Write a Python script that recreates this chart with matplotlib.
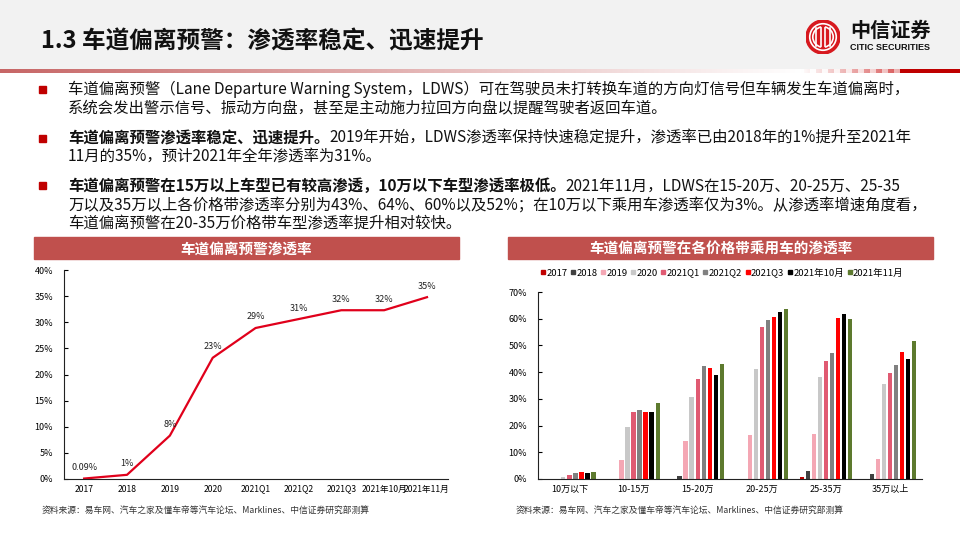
import numpy as np
import matplotlib
matplotlib.use('Agg')
import matplotlib.pyplot as plt
from matplotlib.patches import Rectangle, Circle, Arc
from matplotlib.lines import Line2D

plt.rcParams['font.family'] = ['Noto Sans CJK SC', 'DejaVu Sans']

# ================= 数据 =================
line_labels = ['2017', '2018', '2019', '2020', '2021Q1', '2021Q2', '2021Q3', '2021年10月', '2021年11月']
line_values = [0.09, 0.8, 8.3, 23.2, 28.9, 30.6, 32.3, 32.3, 34.8]
line_texts = ['0.09%', '1%', '8%', '23%', '29%', '31%', '32%', '32%', '35%']

price_bands = ['10万以下', '10-15万', '15-20万', '20-25万', '25-35万', '35万以上']
series_names = ['2017', '2018', '2019', '2020', '2021Q1', '2021Q2', '2021Q3', '2021年10月', '2021年11月']
v2017 = [0, 0, 0, 0, 0.9, 0]
v2018 = [0, 0, 1.2, 0, 2.9, 2.0]
v2019 = [0, 7.0, 14.2, 16.4, 17.0, 7.3]
v2020 = [0.7, 19.6, 30.8, 41.2, 38.1, 35.7]
v2021q1 = [1.4, 25.2, 37.5, 57.0, 44.3, 39.8]
v2021q2 = [2.2, 26.0, 42.2, 59.5, 47.1, 42.7]
v2021q3 = [2.8, 25.2, 41.4, 60.7, 60.4, 47.6]
v2021oct = [2.3, 25.2, 39.0, 62.7, 61.7, 45.0]
v2021nov = [2.5, 28.3, 43.2, 63.6, 60.0, 51.7]
series_values = [v2017, v2018, v2019, v2020, v2021q1, v2021q2, v2021q3, v2021oct, v2021nov]
series_colors = ['#c00000', '#404040', '#f4a7b4', '#c8c8c8', '#e05a72', '#808080', '#ff0000', '#000000', '#5d7a2e']

W, H = 960, 540
fig = plt.figure(figsize=(9.6, 5.4), dpi=100)
fig.patch.set_facecolor('white')


def fx(x):
    return x / W


def fy(y):
    return 1 - y / H


# ================= 页眉 =================
fig.patches.append(Rectangle((0, fy(69)), 1, 69 / H, transform=fig.transFigure, color='#f2f2f2', zorder=-5))

# 渐变分隔线
grad = np.ones((1, W, 3))
start = np.array([0.78, 0.40, 0.40])
for i in range(W):
    if i < 800:
        t = i / 800
        grad[0, i] = start * (1 - t) + np.array([1.0, 1.0, 1.0]) * t
    elif i < 900:
        t = (i - 800) / 100
        c = np.array([1.0, 1.0, 1.0]) * (1 - t) + np.array([0.85, 0.35, 0.35]) * t
        grad[0, i] = c if (i // 6) % 2 == 0 else np.array([1.0, 1.0, 1.0]) * (1 - t * 0.5) + c * t * 0.5
    else:
        grad[0, i] = [0.75, 0.0, 0.0]
ax_line = fig.add_axes([0, fy(73), 1, 4 / H])
ax_line.imshow(grad, aspect='auto')
ax_line.axis('off')

fig.text(fx(41), fy(41), '1.3 车道偏离预警：渗透率稳定、迅速提升', fontsize=17, fontweight='bold',
         va='center', ha='left', color='#111111')

# 中信证券 logo
ax_logo = fig.add_axes([fx(806), fy(54), 34 / W, 34 / H], zorder=5)
ax_logo.set_xlim(-1, 1)
ax_logo.set_ylim(-1, 1)
ax_logo.set_aspect('equal')
ax_logo.axis('off')
ax_logo.add_patch(Circle((0, 0), 1.0, color='#d7191f'))
ax_logo.add_patch(Circle((0, 0), 0.78, fill=False, ec='white', lw=1.2))
for xv in [-0.42, -0.14, 0.14, 0.42]:
    ax_logo.plot([xv, xv], [-0.55, 0.55], color='white', lw=1.2)
ax_logo.add_patch(Arc((0, 0), 1.2, 1.2, theta1=100, theta2=260, color='white', lw=1.2))
ax_logo.add_patch(Arc((0, 0), 1.2, 1.2, theta1=-80, theta2=80, color='white', lw=1.2))
fig.text(fx(850), fy(30), '中信证券', fontsize=14.5, fontweight='bold', va='center', ha='left', color='#111111')
fig.text(fx(850), fy(47), 'CITIC SECURITIES', fontsize=6.5, fontweight='bold', va='center', ha='left',
         color='#111111', family=['Liberation Sans', 'DejaVu Sans'])

# ================= 正文要点 =================
renderer = fig.canvas.get_renderer()
body_size = 11.1


def rich_line(x, y, parts):
    cur = fx(x)
    for txt, bold in parts:
        t = fig.text(cur, fy(y), txt, fontsize=body_size, fontweight='bold' if bold else 'normal',
                     va='center', ha='left', color='#111111')
        bb = t.get_window_extent(renderer=renderer)
        cur = bb.x1 / W


bullets = [
    [(89, [('车道偏离预警（Lane Departure Warning System，LDWS）可在驾驶员未打转换车道的方向灯信号但车辆发生车道偏离时，', False)]),
     (108, [('系统会发出警示信号、振动方向盘，甚至是主动施力拉回方向盘以提醒驾驶者返回车道。', False)])],
    [(138, [('车道偏离预警渗透率稳定、迅速提升。', True),
            ('2019年开始，LDWS渗透率保持快速稳定提升，渗透率已由2018年的1%提升至2021年', False)]),
     (157, [('11月的35%，预计2021年全年渗透率为31%。', False)])],
    [(186, [('车道偏离预警在15万以上车型已有较高渗透，10万以下车型渗透率极低。', True),
            ('2021年11月，LDWS在15-20万、20-25万、25-35', False)]),
     (205, [('万以及35万以上各价格带渗透率分别为43%、64%、60%以及52%；在10万以下乘用车渗透率仅为3%。从渗透率增速角度看，', False)]),
     (224, [('车道偏离预警在20-35万价格带车型渗透率提升相对较快。', False)])],
]
for bullet in bullets:
    y0 = bullet[0][0]
    fig.patches.append(Rectangle((fx(39), fy(y0 + 3.5)), 7 / W, 7 / H, transform=fig.transFigure,
                                 color='#c00000'))
    for yy, parts in bullet:
        rich_line(68, yy, parts)

# ================= 图表标题栏 =================
banner_color = '#c0504d'
for x0, x1, title in [(34, 459, '车道偏离预警渗透率'), (508, 933, '车道偏离预警在各价格带乘用车的渗透率')]:
    fig.patches.append(Rectangle((fx(x0), fy(259)), (x1 - x0) / W, 22 / H, transform=fig.transFigure,
                                 color=banner_color))
    fig.text(fx((x0 + x1) / 2), fy(248.5), title, fontsize=10.5, fontweight='bold', color='white',
             ha='center', va='center')

tick_size = 6.5

# ================= 左图：折线图 =================
ax1 = fig.add_axes([fx(64), fy(479), 384 / W, 209 / H])
xpos = np.arange(len(line_labels))
ax1.plot(xpos, line_values, color='#e0001b', lw=1.6)
for xi, v, s in zip(xpos, line_values, line_texts):
    ax1.annotate(s, (xi, v), xytext=(0, 8), textcoords='offset points', ha='center', va='center',
                 fontsize=tick_size, color='#222222')
ax1.set_xlim(-0.47, 8.49)
ax1.set_ylim(0, 40)
ax1.set_yticks(np.arange(0, 41, 5))
ax1.set_yticklabels([f'{v}%' for v in range(0, 41, 5)])
ax1.set_xticks(xpos)
ax1.set_xticklabels(line_labels)
ax1.tick_params(axis='x', length=0, labelsize=6.2, pad=4)
ax1.tick_params(axis='y', direction='in', length=3, labelsize=tick_size, pad=8)
for sp in ['top', 'right']:
    ax1.spines[sp].set_visible(False)
for sp in ['left', 'bottom']:
    ax1.spines[sp].set_linewidth(0.8)
    ax1.spines[sp].set_color('#222222')

source_text = '资料来源：易车网、汽车之家及懂车帝等汽车论坛、Marklines、中信证券研究部测算'
fig.text(fx(42), fy(510), source_text, fontsize=6.3, va='center', ha='left', color='#333333')

# ================= 右图：分组柱状图 =================
ax2 = fig.add_axes([fx(538), fy(479), 384 / W, 187 / H])
n = len(series_names)
slot = 0.094
gx = np.arange(len(price_bands))
for i, (name, vals, col) in enumerate(zip(series_names, series_values, series_colors)):
    ax2.bar(gx + (i - (n - 1) / 2) * slot, vals, width=slot * 0.7, color=col, label=name)
ax2.set_xlim(-0.49, 5.5)
ax2.set_ylim(0, 70)
ax2.set_yticks(np.arange(0, 71, 10))
ax2.set_yticklabels([f'{v}%' for v in range(0, 71, 10)])
ax2.set_xticks(gx)
ax2.set_xticklabels(price_bands)
ax2.tick_params(axis='x', length=0, labelsize=tick_size, pad=4)
ax2.tick_params(axis='y', direction='in', length=3, labelsize=tick_size, pad=8)
for sp in ['top', 'right']:
    ax2.spines[sp].set_visible(False)
for sp in ['left', 'bottom']:
    ax2.spines[sp].set_linewidth(0.8)
    ax2.spines[sp].set_color('#222222')

handles = [Line2D([], [], marker='s', ls='', color=c, markersize=3.5) for c in series_colors]
fig.legend(handles, series_names, loc='center', bbox_to_anchor=(fx(722), fy(273)), ncol=n, frameon=False,
           fontsize=6.8, handlelength=0.5, handletextpad=0.1, columnspacing=0.35, borderpad=0)

fig.text(fx(516), fy(510), source_text, fontsize=6.3, va='center', ha='left', color='#333333')

fig.savefig('out.png', dpi=100)
